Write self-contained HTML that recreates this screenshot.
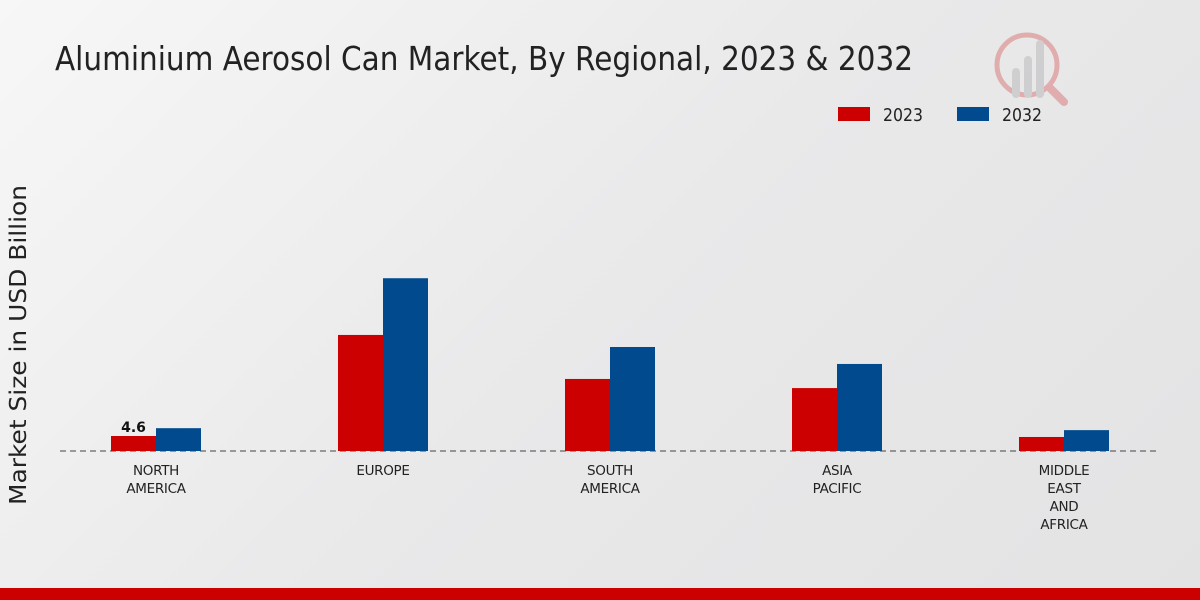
<!DOCTYPE html>
<html><head><meta charset="utf-8"><style>
body{margin:0;width:1200px;height:600px;overflow:hidden;font-family:"DejaVu Sans","Liberation Sans",sans-serif;}
#bg{position:absolute;left:0;top:0;width:1200px;height:600px;background:linear-gradient(135deg,#f7f7f7 0%,#e9e9ea 50%,#e3e3e4 100%);}
</style></head><body>
<div id="bg"></div>
<svg id="chart" width="1200" height="600" style="position:absolute;left:0;top:0">
<text x="55" y="70" font-size="33" fill="#222" textLength="858" lengthAdjust="spacingAndGlyphs">Aluminium Aerosol Can Market, By Regional, 2023 &amp; 2032</text>
<g opacity="0.25">
<circle cx="1027" cy="65" r="30" fill="none" stroke="#c00" stroke-width="5"/>
<rect x="1012" y="68" width="8" height="30" rx="4" fill="#888"/>
<rect x="1024" y="56" width="8" height="42" rx="4" fill="#888"/>
<rect x="1036" y="40" width="8" height="58" rx="4" fill="#888"/>
<line x1="1050" y1="88" x2="1064" y2="102" stroke="#c00" stroke-width="8" stroke-linecap="round"/>
</g>
<g>
<rect x="838" y="107" width="32" height="14" fill="#cc0000"/>
<text x="883" y="121" font-size="18" fill="#222" textLength="40" lengthAdjust="spacingAndGlyphs">2023</text>
<rect x="957" y="107" width="32" height="14" fill="#004a8d"/>
<text x="1002" y="121" font-size="18" fill="#222" textLength="40" lengthAdjust="spacingAndGlyphs">2032</text>
</g>
<text transform="translate(26,345) rotate(-90)" text-anchor="middle" font-size="23" fill="#222" textLength="320" lengthAdjust="spacingAndGlyphs">Market Size in USD Billion</text>
<line x1="60" y1="451" x2="1160" y2="451" stroke="#444" stroke-dasharray="6,4"/>
<g id="bars"></g>
<rect x="0" y="588" width="1200" height="12" fill="#cc0000"/>
</svg>
<script>
const categories=[["NORTH","AMERICA"],["EUROPE"],["SOUTH","AMERICA"],["ASIA","PACIFIC"],["MIDDLE","EAST","AND","AFRICA"]];
const values2023=[4.6,35.6,22.1,19.3,4.3];
const values2032=[7.0,53.0,31.9,26.7,6.4];
const labels2023=["4.6","","","",""];
const baseY=451, pxPerUnit=3.26, x0=156, step=227, bw=45;
const y=v=>baseY-v*pxPerUnit;
const xc=i=>x0+i*step;
const g=document.getElementById('bars');
const NS='http://www.w3.org/2000/svg';
function mk(t,a){const e=document.createElementNS(NS,t);for(const k in a)e.setAttribute(k,a[k]);g.appendChild(e);return e;}
categories.forEach((c,i)=>{
  let r=mk('rect',{x:xc(i)-bw,y:y(values2023[i]),width:bw,height:baseY-y(values2023[i]),fill:'#cc0000'});
  
  
  r=mk('rect',{x:xc(i),y:y(values2032[i]),width:bw,height:baseY-y(values2032[i]),fill:'#004a8d'});
  
  
  if(labels2023[i]){
    const t=mk('text',{x:xc(i)-bw/2,y:y(values2023[i])-4,'text-anchor':'middle','font-size':14,'font-weight':'bold',fill:'#111'});
    t.textContent=labels2023[i];
    
    
  }
  c.forEach((ln,j)=>{
    const t=mk('text',{x:xc(i),y:475+j*18,'text-anchor':'middle','font-size':13.5,fill:'#222','letter-spacing':'-0.3'});
    t.textContent=ln;
    
    
  });
});
</script>
</body></html>
